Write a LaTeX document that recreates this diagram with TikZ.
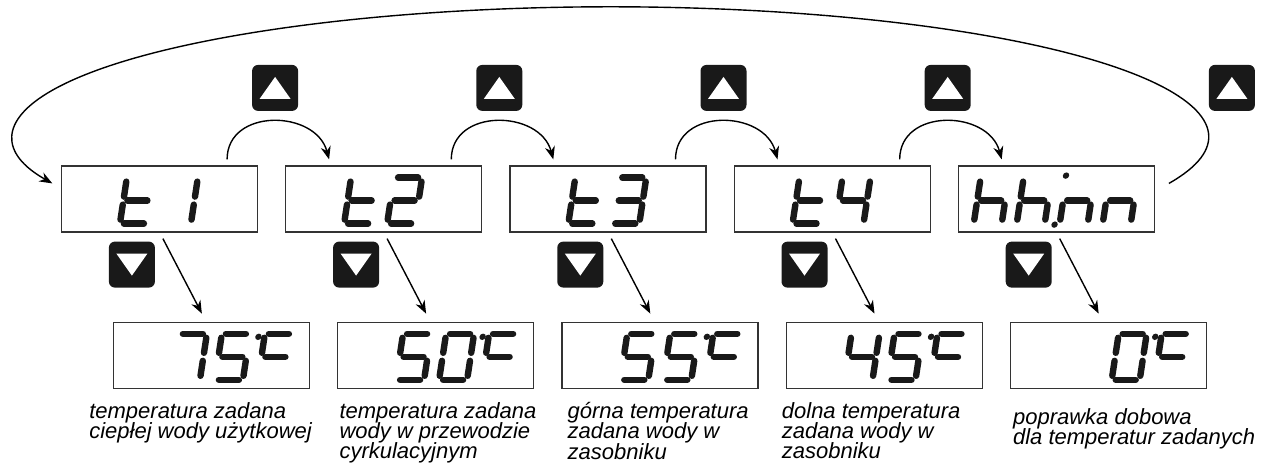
\documentclass[tikz,border=0pt]{standalone}
\usepackage{fontspec}
\setmainfont{Liberation Sans}
\usetikzlibrary{arrows.meta,positioning}

\tikzset{
  seg/.style={line width=3.2pt, line cap=round, draw=black!90},
  segdot/.style={fill=black!90}
}
% segments of one display cell (origin = bottom left, 28 x 46)
\pgfkeys{/lcd/.cd,
  a/.code={\draw[seg] (4,46) -- (24,46);},
  b/.code={\draw[seg] (28,42) -- (28,27);},
  c/.code={\draw[seg] (28,19) -- (28,4);},
  d/.code={\draw[seg] (4,0) -- (24,0);},
  e/.code={\draw[seg] (0,4) -- (0,19);},
  f/.code={\draw[seg] (0,27) -- (0,42);},
  g/.code={\draw[seg] (4,23) -- (24,23);},
  dp/.code={\fill[segdot] (-5,-1) circle (1.6pt);},
  col/.code={\fill[segdot] (-1,48) circle (1.6pt);},
  deg/.code={\fill[segdot] (-6,43) circle (1.6pt);}
}
\newcommand{\lcdchar}[3]{%
  \begin{scope}[shift={(#1.south west)}, shift={(16+43*#2,9)}, xslant=0.152]
    \foreach \s in {#3} {\edef\lcdkey{\noexpand\pgfkeys{/lcd/\s}}\lcdkey}
  \end{scope}}

\begin{document}
\begin{tikzpicture}[x=0.5pt, y=0.5pt,
    lcd/.style={rectangle, draw=black!80, line width=0.6pt, minimum width=98pt, minimum height=33pt, inner sep=0pt},
    btn/.style={rectangle, fill=black!90, rounded corners=3pt, minimum width=23pt, minimum height=23pt, inner sep=0pt},
    upbtn/.style={btn, path picture={\fill[white, sharp corners] ([shift={(-7.75pt,-5.5pt)}]path picture bounding box.center) -- ([shift={(7.75pt,-5.5pt)}]path picture bounding box.center) -- ([shift={(0pt,5.5pt)}]path picture bounding box.center) -- cycle;}},
    downbtn/.style={btn, path picture={\fill[white, sharp corners] ([shift={(-7.75pt,5.5pt)}]path picture bounding box.center) -- ([shift={(7.75pt,5.5pt)}]path picture bounding box.center) -- ([shift={(0pt,-5.5pt)}]path picture bounding box.center) -- cycle;}},
    arrow/.style={-{Stealth[length=6.5pt,width=5pt]}, line width=0.7pt},
    note/.style={align=left, inner sep=0pt, anchor=north west, font={\fontsize{11pt}{10.2pt}\selectfont\itshape\lineskiplimit=-10pt}}
]
\useasboundingbox (0,0) rectangle (1266,-463);

% parameter displays
\node[lcd] (d1) at (159.5,-199) {};
\node[lcd, right=13.5pt of d1] (d2) {};
\node[lcd, right=13.5pt of d2] (d3) {};
\node[lcd, right=13.5pt of d3] (d4) {};
\node[lcd, right=13.5pt of d4] (d5) {};

% value displays
\node[lcd, below=44.5pt of d1, xshift=26pt] (v1) {};
\node[lcd, below=44.5pt of d2, xshift=26pt] (v2) {};
\node[lcd, below=44.5pt of d3, xshift=26pt] (v3) {};
\node[lcd, below=44.5pt of d4, xshift=26pt] (v4) {};
\node[lcd, below=44.5pt of d5, xshift=26pt] (v5) {};

% buttons
\node[upbtn] (u1) at ([shift={(17,77.5)}]d1.north east) {};
\node[upbtn] (u2) at ([shift={(17,77.5)}]d2.north east) {};
\node[upbtn] (u3) at ([shift={(17,77.5)}]d3.north east) {};
\node[upbtn] (u4) at ([shift={(17,77.5)}]d4.north east) {};
\node[upbtn] (u5) at ([shift={(77,77.5)}]d5.north east) {};
\node[downbtn] (w1) at ([shift={(71,-32)}]d1.south west) {};
\node[downbtn] (w2) at ([shift={(71,-32)}]d2.south west) {};
\node[downbtn] (w3) at ([shift={(71,-32)}]d3.south west) {};
\node[downbtn] (w4) at ([shift={(71,-32)}]d4.south west) {};
\node[downbtn] (w5) at ([shift={(71,-32)}]d5.south west) {};

% display contents
\lcdchar{d1}{1}{d,e,f,g} \lcdchar{d1}{2}{b,c}
\lcdchar{d2}{1}{d,e,f,g} \lcdchar{d2}{2}{a,b,g,e,d}
\lcdchar{d3}{1}{d,e,f,g} \lcdchar{d3}{2}{a,b,g,c,d}
\lcdchar{d4}{1}{d,e,f,g} \lcdchar{d4}{2}{f,g,b,c}
\lcdchar{d5}{0}{f,e,g,c} \lcdchar{d5}{1}{f,e,g,c} \lcdchar{d5}{2}{dp,col,e,g,c} \lcdchar{d5}{3}{e,g,c}
\lcdchar{v1}{1}{a,b,c} \lcdchar{v1}{2}{a,f,g,c,d} \lcdchar{v1}{3}{deg,a,f,g}
\lcdchar{v2}{1}{a,f,g,c,d} \lcdchar{v2}{2}{a,b,c,d,e,f} \lcdchar{v2}{3}{deg,a,f,g}
\lcdchar{v3}{1}{a,f,g,c,d} \lcdchar{v3}{2}{a,f,g,c,d} \lcdchar{v3}{3}{deg,a,f,g}
\lcdchar{v4}{1}{f,g,b,c} \lcdchar{v4}{2}{a,f,g,c,d} \lcdchar{v4}{3}{deg,a,f,g}
\lcdchar{v5}{2}{a,b,c,d,e,f} \lcdchar{v5}{3}{deg,a,f,g}

% up: next parameter
\draw[arrow] ([shift={(-31,6)}]d1.north east) to[out=90, in=105, looseness=1.3] ([shift={(44,6)}]d2.north west);
\draw[arrow] ([shift={(-31,6)}]d2.north east) to[out=90, in=105, looseness=1.3] ([shift={(44,6)}]d3.north west);
\draw[arrow] ([shift={(-31,6)}]d3.north east) to[out=90, in=105, looseness=1.3] ([shift={(44,6)}]d4.north west);
\draw[arrow] ([shift={(-31,6)}]d4.north east) to[out=90, in=105, looseness=1.3] ([shift={(44,6)}]d5.north west);
\draw[arrow] ([shift={(14,-18)}]d5.north east) arc[start angle=-21, end angle=201, x radius=598, y radius=130];

% down: value
\draw[arrow] ([shift={(102,-6)}]d1.south west) -- ([shift={(89,8)}]v1.north west);
\draw[arrow] ([shift={(102,-6)}]d2.south west) -- ([shift={(89,8)}]v2.north west);
\draw[arrow] ([shift={(102,-6)}]d3.south west) -- ([shift={(89,8)}]v3.north west);
\draw[arrow] ([shift={(102,-6)}]d4.south west) -- ([shift={(89,8)}]v4.north west);
\draw[arrow] ([shift={(102,-6)}]d5.south west) -- ([shift={(89,8)}]v5.north west);

% descriptions
\node[note] (n1) at ([shift={(-24,-13)}]v1.south west) {temperatura zadana\\ciepłej wody użytkowej};
\node[note] (n2) at ([shift={(2,-13)}]v2.south west) {temperatura zadana\\wody w przewodzie\\cyrkulacyjnym};
\node[note] (n3) at ([shift={(6,-13)}]v3.south west) {górna temperatura\\zadana wody w\\zasobniku};
\node[note] (n4) at ([shift={(-4,-13)}]v4.south west) {dolna temperatura\\zadana wody w\\zasobniku};
\node[note] (n5) at ([shift={(3,-19)}]v5.south west) {poprawka dobowa\\dla temperatur zadanych};

\end{tikzpicture}
\end{document}
